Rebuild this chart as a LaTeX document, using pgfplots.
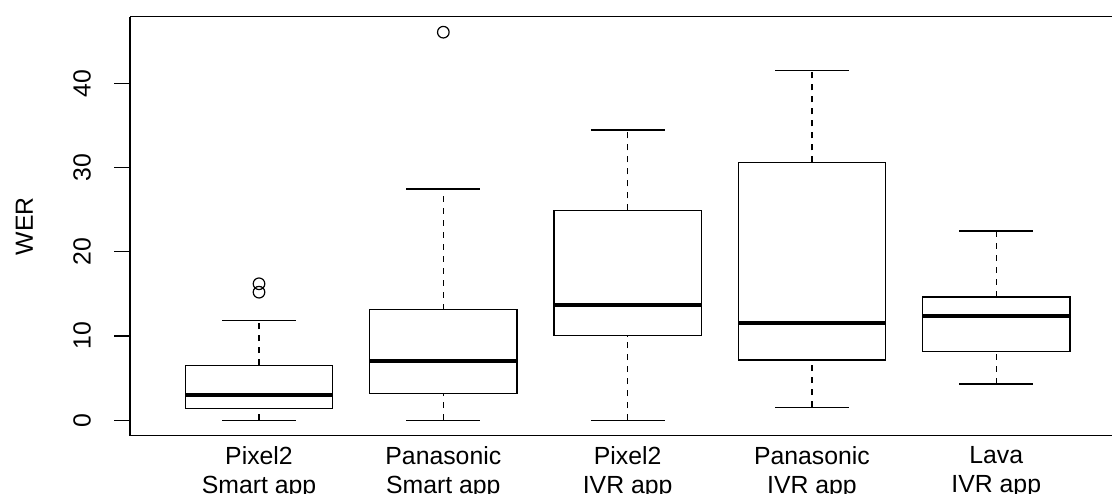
\documentclass[border=0pt]{standalone}
\usepackage{pgfplots}
\pgfplotsset{compat=1.18}
\usepgfplotslibrary{statistics}
\usepackage{fontspec}
\setmainfont{Liberation Sans}

\pgfplotsset{
  boxplot/draw/lower whisker/.code={%
      \draw[dash pattern=on 3pt off 3pt, line width=0.6pt]
        (boxplot whisker cs:\pgfplotsboxplotvalue{lower whisker},0.5) --
        (boxplot box cs:\pgfplotsboxplotvalue{lower quartile},0.5);
      \draw[line width=0.6pt]
        (boxplot whisker cs:\pgfplotsboxplotvalue{lower whisker},0) --
        (boxplot whisker cs:\pgfplotsboxplotvalue{lower whisker},1);
  },
  boxplot/draw/upper whisker/.code={%
      \draw[dash pattern=on 3pt off 3pt, line width=0.6pt]
        (boxplot box cs:\pgfplotsboxplotvalue{upper quartile},0.5) --
        (boxplot whisker cs:\pgfplotsboxplotvalue{upper whisker},0.5);
      \draw[line width=0.6pt]
        (boxplot whisker cs:\pgfplotsboxplotvalue{upper whisker},0) --
        (boxplot whisker cs:\pgfplotsboxplotvalue{upper whisker},1);
  },
  boxplot/draw/box/.code={%
      \draw[line width=0.6pt]
        (boxplot box cs:\pgfplotsboxplotvalue{lower quartile},0) rectangle
        (boxplot box cs:\pgfplotsboxplotvalue{upper quartile},1);
  },
  boxplot/draw/median/.code={%
      \draw[line width=2pt]
        (boxplot box cs:\pgfplotsboxplotvalue{median},0) --
        (boxplot box cs:\pgfplotsboxplotvalue{median},1);
  },
  rbox/.style={
    black, line width=0.6pt, mark=o, mark size=2.9pt,
    mark options={solid, line width=0.6pt},
  },
}

\begin{document}
\begin{tikzpicture}
\begin{axis}[
  at={(65pt,238.15pt)}, anchor=north west,
  scale only axis, width=491pt, height=209.5pt,
  xmin=0.3, xmax=5.628,
  ymin=-1.84, ymax=47.91,
  axis x line=box, axis y line=left,
  every outer y axis line/.append style={-},
  every outer x axis line/.append style={-},
  axis line style={black, line width=0.6pt},
  font=\fontsize{12.4}{14.3}\selectfont,
  /pgf/number format/assume math mode=true,
  ytick={0,10,20,30,40},
  tick align=outside,
  major tick length=8pt,
  ytick style={black, line width=0.6pt},
  yticklabel style={xshift=-8pt, rotate=90, anchor=south},
  xtick={1,2,3,4,5},
  xtick style={draw=none},
  xticklabels={{Pixel2\\Smart app},{Panasonic\\Smart app},{Pixel2\\IVR app},{Panasonic\\IVR app},{Lava\\IVR app}},
  xticklabel style={align=center, anchor=north, yshift=6pt},
  ylabel={WER},
  ylabel style={at={(axis description cs:-0.0988,0.5)}, anchor=base, rotate=0},
  boxplot/draw direction=y,
  boxplot/box extend=0.8,
  boxplot/whisker extend=0.4,
  clip=false,
]
\addplot[rbox, boxplot prepared={draw position=1, lower whisker=0, lower quartile=1.35, median=2.97, upper quartile=6.53, upper whisker=11.83}]
  table[row sep=\\, y index=0] {16.2\\ 15.2\\};
\addplot[rbox, boxplot prepared={draw position=2, lower whisker=0, lower quartile=3.13, median=7.08, upper quartile=13.1, upper whisker=27.45}]
  table[row sep=\\, y index=0] {46.07\\};
\addplot[rbox, boxplot prepared={draw position=3, lower whisker=0, lower quartile=10.05, median=13.72, upper quartile=24.9, upper whisker=34.45}]
  coordinates {};
\addplot[rbox, boxplot prepared={draw position=4, lower whisker=1.55, lower quartile=7.16, median=11.59, upper quartile=30.6, upper whisker=41.48}]
  coordinates {};
\addplot[rbox, boxplot prepared={draw position=5, lower whisker=4.31, lower quartile=8.15, median=12.42, upper quartile=14.64, upper whisker=22.47}]
  coordinates {};
\end{axis}
\pgfresetboundingbox
\useasboundingbox (0,0) rectangle (556pt,246.5pt);
\end{tikzpicture}
\end{document}
